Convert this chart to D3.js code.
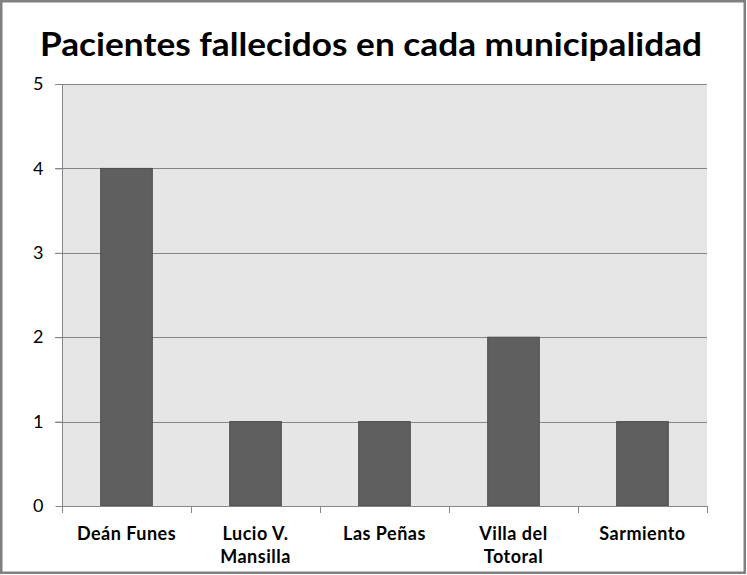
<!DOCTYPE html>
<html><head><meta charset="utf-8">
<script src="https://cdn.jsdelivr.net/npm/d3@7"></script>
<style>html,body{margin:0;padding:0;background:#fff;overflow:hidden}</style>
</head><body>
<script>
const categories = [["Deán Funes"],["Lucio V.","Mansilla"],["Las Peñas"],["Villa del","Totoral"],["Sarmiento"]];
const values = [4,1,1,2,1];
const yTicks = [0,1,2,3,4,5];
const title = "Pacientes fallecidos en cada municipalidad";

const W=747,H=575;
const svg=d3.select("body").append("svg").attr("width",W).attr("height",H);
svg.append("rect").attr("x",1.25).attr("y",1.25).attr("width",W-3.5).attr("height",H-3.5)
  .attr("fill","#fff").attr("stroke","#808080").attr("stroke-width",2.5);

const m={l:62,r:707,t:84,b:506};
const x=d3.scaleBand().domain(d3.range(categories.length)).range([m.l,m.r]).paddingInner(0).paddingOuter(0);
const y=d3.scaleLinear().domain([0,5]).range([m.b,m.t]);

svg.append("rect").attr("x",m.l).attr("y",m.t).attr("width",m.r-m.l).attr("height",m.b-m.t).attr("fill","#e6e6e6");

const font="Lato, 'Open Sans', sans-serif";
// gridlines
svg.append("g").selectAll("line").data(yTicks.filter(d=>d>0)).join("line")
  .attr("x1",m.l-7).attr("x2",m.r).attr("y1",d=>Math.round(y(d))+0.5).attr("y2",d=>Math.round(y(d))+0.5)
  .attr("stroke","#868686").attr("stroke-width",1);

// bars
const bw=x.bandwidth()*0.4;
svg.append("g").selectAll("rect").data(values).join("rect")
  .attr("x",(d,i)=>x(i)+(x.bandwidth()-bw)/2).attr("y",d=>y(d)).attr("width",bw).attr("height",d=>y(0)-y(d))
  .attr("fill","#5f5f5f").attr("stroke","#4d4d4d").attr("stroke-width",1);

// y axis
const ya=d3.axisLeft(y).tickValues(yTicks).tickSize(7).tickPadding(12).tickFormat(d3.format("d"));
const gy=svg.append("g").attr("transform",`translate(${m.l+0.5},0)`).call(ya);
gy.select(".domain").attr("stroke","#868686").attr("d",`M0,${m.t}V${m.b}`);
gy.selectAll(".tick line").attr("stroke","#868686");
gy.selectAll(".tick text").attr("font-family",font).attr("font-size",18).attr("fill","#000");

// x axis
const xa=d3.scaleLinear().domain([0,categories.length]).range([m.l,m.r]);
const gx=svg.append("g");
gx.append("line").attr("x1",m.l).attr("x2",m.r).attr("y1",m.b+0.5).attr("y2",m.b+0.5).attr("stroke","#868686");
gx.selectAll("line.t").data(d3.range(categories.length+1)).join("line").attr("class","t")
  .attr("x1",d=>Math.round(xa(d))+0.5).attr("x2",d=>Math.round(xa(d))+0.5).attr("y1",m.b).attr("y2",m.b+7).attr("stroke","#868686");
const lbl=gx.selectAll("text").data(categories).join("text")
  .attr("x",(d,i)=>x(i)+x.bandwidth()/2).attr("y",540).attr("text-anchor","middle")
  .attr("font-family",font).attr("font-weight","bold").attr("font-size",18).attr("letter-spacing",0.5).attr("fill","#000");
lbl.selectAll("tspan").data(d=>d).join("tspan").attr("x",function(){return this.parentNode.getAttribute("x");})
  .attr("dy",(d,i)=>i===0?0:23).text(d=>d);

svg.append("text").attr("x",371).attr("y",56).attr("text-anchor","middle")
  .attr("font-family",font).attr("font-weight","bold").attr("font-size",33).attr("fill","#000")
  .attr("textLength",662).attr("lengthAdjust","spacingAndGlyphs").text(title);
</script>
</body></html>
